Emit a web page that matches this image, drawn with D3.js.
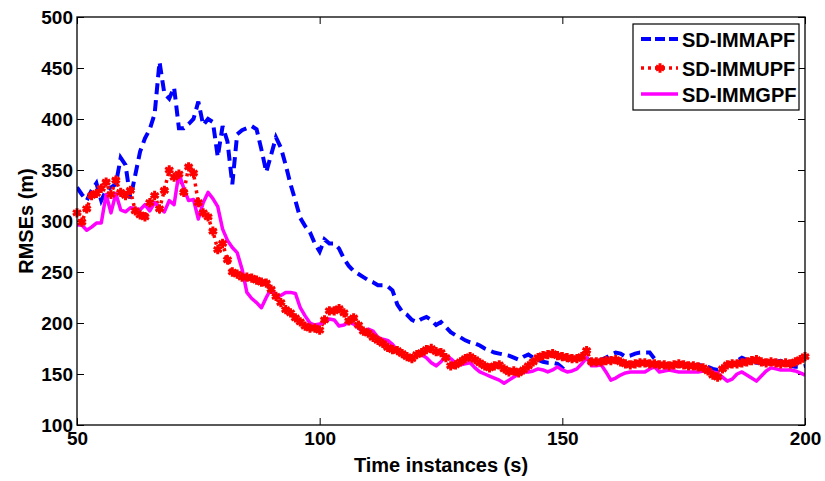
<!DOCTYPE html>
<html>
<head>
<meta charset="utf-8">
<script src="https://cdn.jsdelivr.net/npm/d3@7"></script>
<style>
  body { margin: 0; background: #fff; }
  svg text { font-family: "Liberation Sans", Arial, sans-serif; font-weight: bold; fill: #000; }
</style>
</head>
<body>
<svg id="chart" width="825" height="481"></svg>
<script>
// time instances (s), one sample per second
const times = d3.range(50, 201);

const immapf = [
  333, 326, 320, 330, 337, 320, 330, 333, 336, 362,
  355, 322, 345, 368, 381, 390, 405, 456, 425, 420,
  431, 391, 391, 395, 400, 417, 394, 400, 397, 363,
  393, 378, 336, 385, 389, 391, 393, 390, 370, 348,
  365, 382, 372, 355, 336, 320, 303, 295, 289, 278,
  270, 282, 278, 278, 273, 263, 256, 251, 248, 245,
  242, 240, 237, 237, 236, 232, 218, 211, 208, 203,
  201, 204, 206, 203, 198, 201, 196, 191, 188, 186,
  183, 181, 180, 178, 175, 173, 171, 170, 169, 168,
  166, 164, 167, 169, 166, 164, 162, 161, 161, 160,
  156, 163, 166, 166, 166, 165, 163, 162, 164, 166,
  169, 171, 170, 167, 168, 170, 171, 171, 171, 165,
  160, 159, 159, 160, 158, 159, 159, 158, 159, 158,
  157, 155, 154, 156, 159, 161, 163, 166, 164, 162,
  161, 161, 161, 161, 162, 163, 161, 158, 157, 157,
  158
];

const immupf = [
  308, 299, 312, 325, 327, 332, 338, 326, 340, 328,
  325, 330, 310, 306, 304, 318, 325, 312, 330, 350,
  343, 346, 328, 353, 347, 318, 308, 304, 290, 272,
  278, 262, 250, 248, 245, 245, 244, 242, 240, 239,
  233, 226, 220, 213, 210, 205, 201, 197, 195, 195,
  193, 203, 212, 212, 214, 210, 202, 205, 198, 192,
  190, 186, 183, 180, 176, 174, 173, 170, 167, 165,
  169, 171, 174, 175, 172, 171, 166, 158, 159, 162,
  165, 167, 164, 161, 158, 156, 158, 159, 155, 152,
  153, 151, 154, 158, 162, 166, 168, 169, 170, 168,
  167, 166, 165, 165, 167, 173, 162, 162, 162, 163,
  163, 164, 162, 160, 159, 160, 161, 161, 160, 160,
  159, 159, 158, 159, 160, 159, 158, 158, 157, 156,
  153, 149, 147, 155, 159, 160, 160, 161, 162, 163,
  164, 162, 161, 162, 161, 160, 161, 160, 162, 164,
  167
];

const immgpf = [
  296, 296, 291, 294, 298, 298, 326, 308, 327, 311,
  309, 313, 312, 311, 316, 310, 318, 313, 309, 320,
  316, 347, 332, 320, 321, 302, 318, 328, 322, 314,
  292, 281, 274, 269, 253, 230, 224, 220, 215, 225,
  234, 227, 227, 230, 230, 229, 215, 207, 200, 198,
  199, 201, 204, 203, 197, 198, 201, 199, 195, 191,
  194, 192, 186, 184, 183, 179, 173, 169, 167, 166,
  168, 169, 166, 161, 158, 162, 168, 165, 161, 159,
  160, 161, 156, 152, 150, 148, 146, 144, 141, 144,
  147, 150, 152, 152, 153, 155, 154, 152, 154, 157,
  154, 152, 153, 155, 160, 166, 158, 158, 159, 152,
  144, 146, 149, 151, 152, 152, 152, 152, 155, 157,
  152, 153, 154, 153, 152, 152, 152, 152, 152, 153,
  154, 152, 151, 147, 143, 145, 150, 152, 149, 146,
  143, 148, 153, 156, 155, 154, 154, 154, 153, 151,
  149
];

const xTicks = [50, 100, 150, 200];
const yTicks = [100, 150, 200, 250, 300, 350, 400, 450, 500];
const seriesNames = ['SD-IMMAPF', 'SD-IMMUPF', 'SD-IMMGPF'];

const svg = d3.select('#chart');
const margin = { top: 17, right: 20, bottom: 56, left: 77 };
const width = 825, height = 481;
const innerWidth = width - margin.left - margin.right;
const innerHeight = height - margin.top - margin.bottom;

const xScale = d3.scaleLinear().domain([50, 200]).range([0, innerWidth]);
const yScale = d3.scaleLinear().domain([100, 500]).range([innerHeight, 0]);

const g = svg.append('g').attr('transform', `translate(${margin.left},${margin.top})`);

svg.append('defs').append('clipPath').attr('id', 'plotclip')
  .append('rect').attr('width', innerWidth).attr('height', innerHeight);

// axes, matlab style: ticks pointing inwards on all four sides
function styleAxis(sel, showLabels) {
  sel.attr('font-family', null).attr('font-size', null);
  sel.select('.domain').remove();
  sel.selectAll('.tick line').attr('stroke', '#000').attr('stroke-width', 1);
  sel.selectAll('.tick text').style('font-size', '19px');
  if (!showLabels) sel.selectAll('.tick text').remove();
}

g.append('g').attr('transform', `translate(0,${innerHeight})`)
  .call(d3.axisBottom(xScale).tickValues(xTicks).tickSizeInner(-7).tickSizeOuter(0).tickPadding(7))
  .call(s => styleAxis(s, true));
g.append('g')
  .call(d3.axisTop(xScale).tickValues(xTicks).tickSizeInner(-7).tickSizeOuter(0))
  .call(s => styleAxis(s, false));
g.append('g')
  .call(d3.axisLeft(yScale).tickValues(yTicks).tickSizeInner(-7).tickSizeOuter(0).tickPadding(4))
  .call(s => styleAxis(s, true));
g.append('g').attr('transform', `translate(${innerWidth},0)`)
  .call(d3.axisRight(yScale).tickValues(yTicks).tickSizeInner(-7).tickSizeOuter(0))
  .call(s => styleAxis(s, false));

const lines = g.append('g').attr('clip-path', 'url(#plotclip)');

const lineGen = d3.line()
  .x((d, i) => xScale(times[i]))
  .y(d => yScale(d));

// SD-IMMAPF: blue dashed
lines.append('path').datum(immapf)
  .attr('fill', 'none').attr('stroke', '#0000ff')
  .attr('stroke-width', 4).attr('stroke-dasharray', '11,6')
  .attr('d', lineGen);

// SD-IMMUPF: red dotted with star markers
lines.append('path').datum(immupf)
  .attr('fill', 'none').attr('stroke', '#ff0000')
  .attr('stroke-width', 3.5).attr('stroke-dasharray', '3,4')
  .attr('d', lineGen);

const star = d3.symbol().type(d3.symbolAsterisk).size(60);
g.append('g').selectAll('path')
  .data(immupf)
  .join('path')
  .attr('transform', (d, i) => `translate(${xScale(times[i])},${yScale(d)})`)
  .attr('d', star)
  .attr('fill', 'none').attr('stroke', '#ff0000').attr('stroke-width', 3);

// SD-IMMGPF: magenta solid
lines.append('path').datum(immgpf)
  .attr('fill', 'none').attr('stroke', '#ff00ff')
  .attr('stroke-width', 3.5).attr('stroke-linejoin', 'round')
  .attr('d', lineGen);

// plot box
g.append('rect').attr('width', innerWidth).attr('height', innerHeight)
  .attr('fill', 'none').attr('stroke', '#000').attr('stroke-width', 1.3);

// axis titles
svg.append('text')
  .attr('x', margin.left + innerWidth / 2).attr('y', 472)
  .attr('text-anchor', 'middle').style('font-size', '20px')
  .text('Time instances (s)');
svg.append('text')
  .attr('transform', 'rotate(-90)')
  .attr('x', -221).attr('y', 33)
  .attr('text-anchor', 'middle').style('font-size', '20px')
  .text('RMSEs (m)');

// legend
const legend = svg.append('g').attr('transform', 'translate(633,24)');
legend.append('rect').attr('width', 166).attr('height', 86)
  .attr('fill', '#fff').attr('stroke', '#000').attr('stroke-width', 1.2);

const legendStyles = [
  { color: '#0000ff', dash: '10,4', width: 4 },
  { color: '#ff0000', dash: '3,4', width: 3.5 },
  { color: '#ff00ff', dash: null, width: 3.5 }
];
const legendY = [15, 44, 70];

seriesNames.forEach((name, i) => {
  const st = legendStyles[i];
  legend.append('line')
    .attr('x1', 8).attr('x2', 45).attr('y1', legendY[i]).attr('y2', legendY[i])
    .attr('stroke', st.color).attr('stroke-width', st.width)
    .attr('stroke-dasharray', st.dash);
  if (i === 1) {
    legend.append('path')
      .attr('transform', `translate(27,${legendY[i]})`)
      .attr('d', star).attr('fill', 'none')
      .attr('stroke', '#ff0000').attr('stroke-width', 3);
  }
  legend.append('text')
    .attr('x', 49).attr('y', legendY[i] + 8)
    .style('font-size', '20px')
    .text(name);
});
</script>
</body>
</html>
